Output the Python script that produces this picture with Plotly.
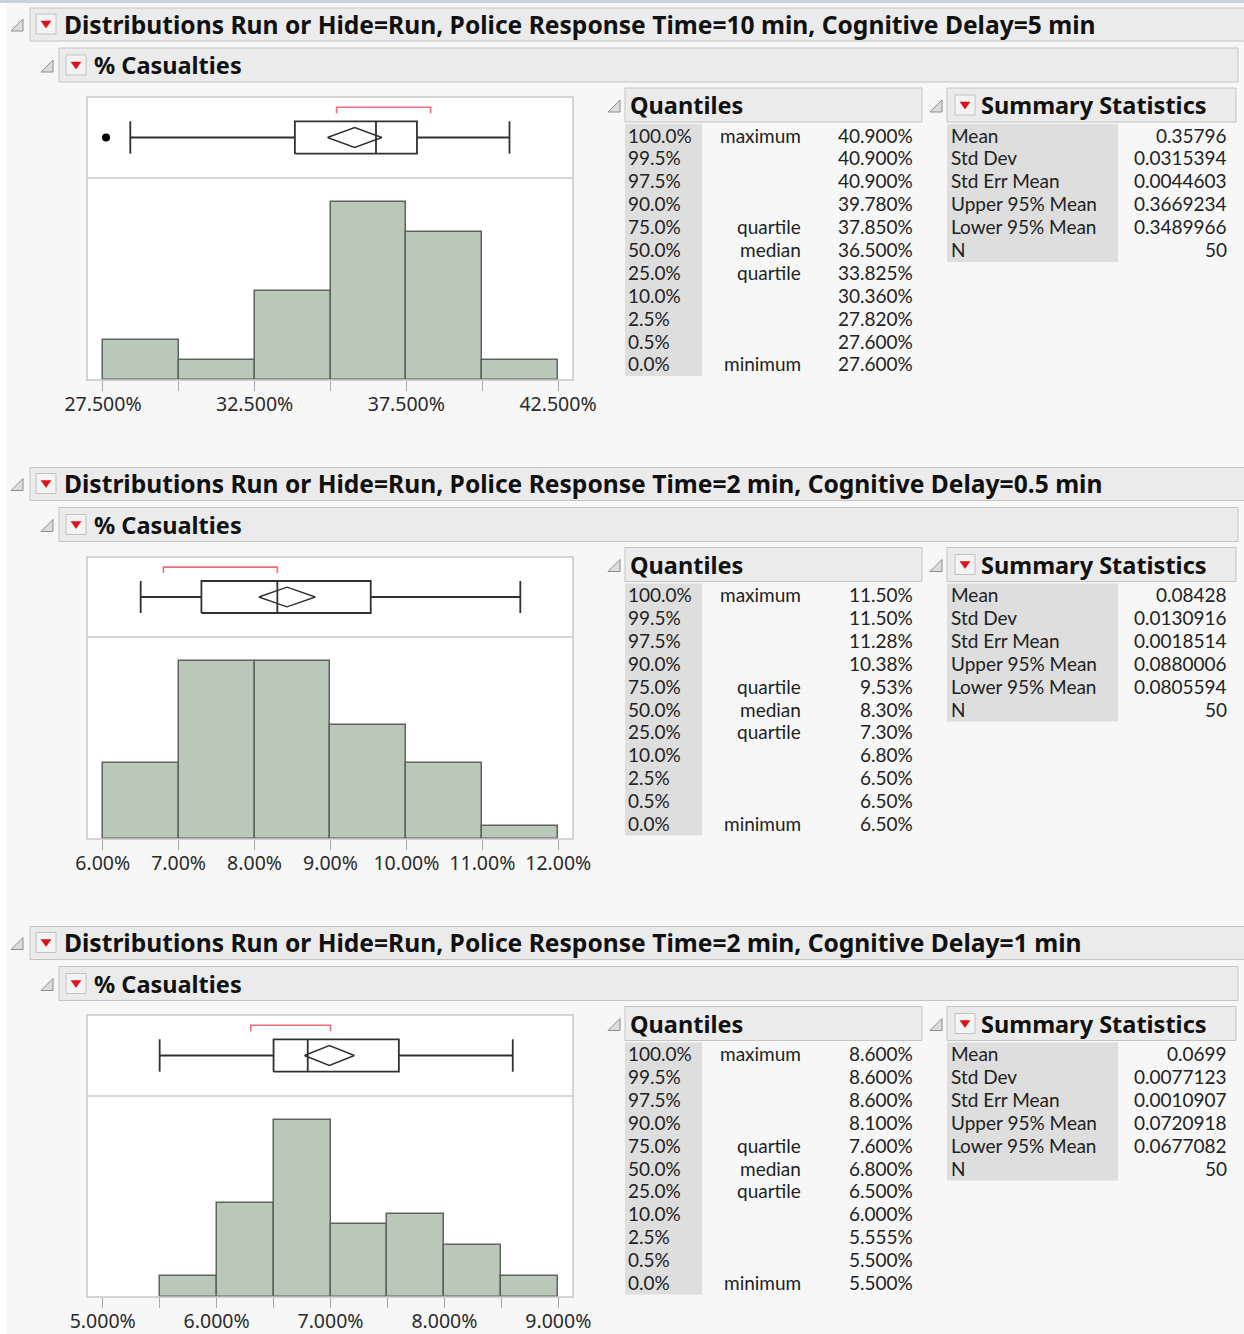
import plotly.graph_objects as go

W, H = 1244, 1334

# ---------------- data ----------------
titles = [
    "Distributions Run or Hide=Run, Police Response Time=10 min, Cognitive Delay=5 min",
    "Distributions Run or Hide=Run, Police Response Time=2 min, Cognitive Delay=0.5 min",
    "Distributions Run or Hide=Run, Police Response Time=2 min, Cognitive Delay=1 min",
]
subtitle = "% Casualties"

edges1 = [27.5, 30.0, 32.5, 35.0, 37.5, 40.0, 42.5]
counts1 = [4, 2, 9, 18, 15, 2]
edges2 = [6.0, 7.0, 8.0, 9.0, 10.0, 11.0, 12.0]
counts2 = [6, 14, 14, 9, 6, 1]
edges3 = [5.5, 6.0, 6.5, 7.0, 7.5, 8.0, 8.5, 9.0]
counts3 = [2, 9, 17, 7, 8, 5, 2]

whisker_lo = [28.4, 6.5, 5.5]
q1 = [33.825, 7.30, 6.5]
median = [36.5, 8.30, 6.8]
q3 = [37.85, 9.53, 7.6]
whisker_hi = [40.9, 11.5, 8.6]
mean = [35.796, 8.428, 6.99]
lower95 = [34.89966, 8.05594, 6.77082]
upper95 = [36.69234, 8.80006, 7.20918]
outliers = [[27.6], [], []]
shortest_half = [[35.2, 38.3], [6.8, 8.3], [6.3, 7.0]]

tickvals1 = [27.5, 30.0, 32.5, 35.0, 37.5, 40.0, 42.5]
ticktext1 = ["27.500%", "", "32.500%", "", "37.500%", "", "42.500%"]
tickvals2 = [6, 7, 8, 9, 10, 11, 12]
ticktext2 = ["6.00%", "7.00%", "8.00%", "9.00%", "10.00%", "11.00%", "12.00%"]
tickvals3 = [5.0, 5.5, 6.0, 6.5, 7.0, 7.5, 8.0, 8.5, 9.0]
ticktext3 = ["5.000%", "", "6.000%", "", "7.000%", "", "8.000%", "", "9.000%"]

quantile_levels = ["100.0%", "99.5%", "97.5%", "90.0%", "75.0%", "50.0%",
                   "25.0%", "10.0%", "2.5%", "0.5%", "0.0%"]
quantile_names = ["maximum", "", "", "", "quartile", "median", "quartile",
                  "", "", "", "minimum"]
quantiles1 = ["40.900%", "40.900%", "40.900%", "39.780%", "37.850%", "36.500%",
              "33.825%", "30.360%", "27.820%", "27.600%", "27.600%"]
quantiles2 = ["11.50%", "11.50%", "11.28%", "10.38%", "9.53%", "8.30%",
              "7.30%", "6.80%", "6.50%", "6.50%", "6.50%"]
quantiles3 = ["8.600%", "8.600%", "8.600%", "8.100%", "7.600%", "6.800%",
              "6.500%", "6.000%", "5.555%", "5.500%", "5.500%"]
stat_names = ["Mean", "Std Dev", "Std Err Mean", "Upper 95% Mean", "Lower 95% Mean", "N"]
stats1 = ["0.35796", "0.0315394", "0.0044603", "0.3669234", "0.3489966", "50"]
stats2 = ["0.08428", "0.0130916", "0.0018514", "0.0880006", "0.0805594", "50"]
stats3 = ["0.0699", "0.0077123", "0.0010907", "0.0720918", "0.0677082", "50"]

edges = [edges1, edges2, edges3]
counts = [counts1, counts2, counts3]
tickvals = [tickvals1, tickvals2, tickvals3]
ticktexts = [ticktext1, ticktext2, ticktext3]
quantiles = [quantiles1, quantiles2, quantiles3]
stats = [stats1, stats2, stats3]

# ---------------- layout constants (pixels) ----------------
x_ranges = [[26.973, 42.994], [5.793, 12.194], [4.862, 9.129]]
frame_top = [97, 557, 1015]
frame_mid = [178, 637, 1096]
frame_bot = [380, 839, 1297]
dy = [0, 459.5, 918.5]
frame_x = [87, 573]

FONT = "Noto Sans"
TAB_FONT = "Lato"
BAR_FILL = "#b9c8b9"
BAR_EDGE = "#5e635e"
BOX_LINE = "#303030"
FRAME = "#c8c8c8"
HDR_FILL = "#ebebeb"
HDR_LINE = "#c4c4c4"
LABEL_FILL = "#dedede"
TXT = "#222222"
TITLE_SIZE = 24.6
HDR_SIZE = 23.5
TAB_SIZE = 19


def X(px):
    return px / W


def Y(py):
    return 1 - py / H


fig = go.Figure()
layout = dict(
    template="none",
    width=W, height=H, autosize=False, margin=dict(l=0, r=0, t=0, b=0, pad=0, autoexpand=False),
    paper_bgcolor="#f7f7f7", plot_bgcolor="white", showlegend=False,
    font=dict(family=FONT, color=TXT),
)
shapes = []
annotations = []


def ann(x, y, text, size=TAB_SIZE, bold=False, xanchor="left", color=TXT, family=TAB_FONT):
    annotations.append(dict(
        x=X(x), y=Y(y), xref="paper", yref="paper", text=text, showarrow=False,
        xanchor=xanchor, yanchor="middle", borderpad=0,
        font=dict(family=family, size=size, color=color, weight=700 if bold else 400),
    ))


def rect(x0, y0, x1, y1, fill, line=None, lw=1, layer="below"):
    shapes.append(dict(type="rect", xref="paper", yref="paper",
                       x0=X(x0), x1=X(x1), y0=Y(y1), y1=Y(y0),
                       fillcolor=fill, line=dict(color=line or "rgba(0,0,0,0)", width=lw if line else 0),
                       layer=layer))


def hline(x0, x1, y, color, lw=1.5):
    shapes.append(dict(type="line", xref="paper", yref="paper",
                       x0=X(x0), x1=X(x1), y0=Y(y), y1=Y(y),
                       line=dict(color=color, width=lw), layer="above"))


def disclosure(x, y):
    p = f"M {X(x)},{Y(y+6)} L {X(x+12)},{Y(y-6)} L {X(x+12)},{Y(y+6)} Z"
    shapes.append(dict(type="path", path=p, xref="paper", yref="paper",
                       fillcolor="#dcdcdc", line=dict(color="#8c8c8c", width=1), layer="above"))


def red_button(x, y):
    shapes.append(dict(type="rect", xref="paper", yref="paper",
                       x0=X(x), x1=X(x + 20), y0=Y(y + 10), y1=Y(y - 10),
                       fillcolor="#f3f3f3", line=dict(color="#c2c2c2", width=1), layer="above"))
    p = f"M {X(x+5)},{Y(y-3)} L {X(x+15)},{Y(y-3)} L {X(x+10)},{Y(y+4)} Z"
    shapes.append(dict(type="path", path=p, xref="paper", yref="paper",
                       fillcolor="#e0101a", line=dict(color="#e0101a", width=0.5), layer="above"))


# page decorations
rect(0, 0, 7, H, "white")
rect(0, 0, W, 3, "#c9d3de")

for i in range(3):
    d = dy[i]
    # outer header
    rect(30, 8 + d, 1246, 41 + d, HDR_FILL, HDR_LINE)
    disclosure(11, 25 + d)
    red_button(36, 24 + d)
    ann(63, 24 + d, titles[i], size=TITLE_SIZE, bold=True, color="#111111", family=FONT)
    # inner header
    rect(59, 48 + d, 1238, 82 + d, HDR_FILL, HDR_LINE)
    disclosure(41, 66 + d)
    red_button(66, 65 + d)
    ann(93, 65 + d, subtitle, size=HDR_SIZE, bold=True, color="#111111", family=FONT)
    # Quantiles header
    rect(625, 88 + d, 922, 122 + d, HDR_FILL, HDR_LINE)
    disclosure(608, 106 + d)
    ann(629, 105 + d, "Quantiles", size=HDR_SIZE, bold=True, color="#111111", family=FONT)
    # Summary statistics header
    rect(947, 88 + d, 1236, 122 + d, HDR_FILL, HDR_LINE)
    disclosure(930, 106 + d)
    red_button(955, 105 + d)
    ann(980, 105 + d, "Summary Statistics", size=HDR_SIZE, bold=True, color="#111111", family=FONT)
    # label columns
    rect(625, 124 + d, 702, 376 + d, LABEL_FILL)
    rect(947, 124 + d, 1118, 262 + d, LABEL_FILL)
    for r in range(11):
        yy = 135 + d + r * 22.9
        ann(627, yy, quantile_levels[r])
        if quantile_names[r]:
            ann(802, yy, quantile_names[r], xanchor="right")
        ann(914, yy, quantiles[i][r], xanchor="right")
    for r in range(6):
        yy = 135 + d + r * 22.9
        ann(950, yy, stat_names[r])
        ann(1228, yy, stats[i][r], xanchor="right")

    # frame of the plot
    rect(frame_x[0], frame_top[i], frame_x[1], frame_bot[i], "rgba(0,0,0,0)", FRAME, 1.5, layer="above")
    hline(frame_x[0], frame_x[1], frame_mid[i], FRAME, 1.5)

    # ---------- axes ----------
    kh = 2 * i + 1
    kb = 2 * i + 2
    sh = "" if kh == 1 else str(kh)
    sb = str(kb)
    xdom = [X(frame_x[0]), X(frame_x[1])]
    ymax = max(counts[i]) * 1.135
    common = dict(showgrid=False, zeroline=False, showline=False, automargin=False, fixedrange=True)
    layout["xaxis" + sh] = dict(
        domain=xdom, anchor="y" + sh, range=x_ranges[i],
        tickmode="array", tickvals=tickvals[i], ticktext=ticktexts[i],
        ticks="outside", ticklen=10, tickwidth=1, tickcolor="#a9a9a9",
        ticklabelstandoff=-3,
        tickfont=dict(family=FONT, size=19.5, color="#2a2a2a"), **common,
    )
    layout["yaxis" + sh] = dict(
        domain=[Y(frame_bot[i]), Y(frame_mid[i])], anchor="x" + sh, range=[0, ymax],
        showticklabels=False, ticks="", **common,
    )
    layout["xaxis" + sb] = dict(
        domain=xdom, anchor="y" + sb, range=x_ranges[i], matches="x" + sh,
        showticklabels=False, ticks="", **common,
    )
    layout["yaxis" + sb] = dict(
        domain=[Y(frame_mid[i]), Y(frame_top[i])], anchor="x" + sb, range=[0, 1],
        showticklabels=False, ticks="", **common,
    )
    xa_h, ya_h = "x" + sh, "y" + sh
    xa_b, ya_b = "x" + sb, "y" + sb

    # histogram
    e = edges[i]
    centers = [(e[j] + e[j + 1]) / 2 for j in range(len(e) - 1)]
    widths = [e[j + 1] - e[j] for j in range(len(e) - 1)]
    fig.add_trace(go.Bar(x=centers, y=counts[i], width=widths, xaxis=xa_h, yaxis=ya_h,
                         marker=dict(color=BAR_FILL, line=dict(color=BAR_EDGE, width=1.5))))

    # box plot
    lw = 1.8
    bl, bh = 0.3, 0.7

    def line(xs, ys, color=BOX_LINE, width=lw):
        fig.add_trace(go.Scatter(x=xs, y=ys, mode="lines", xaxis=xa_b, yaxis=ya_b,
                                 line=dict(color=color, width=width), hoverinfo="skip"))
    line([whisker_lo[i], q1[i]], [0.5, 0.5])
    line([q3[i], whisker_hi[i]], [0.5, 0.5])
    line([whisker_lo[i], whisker_lo[i]], [bl, bh])
    line([whisker_hi[i], whisker_hi[i]], [bl, bh])
    line([q1[i], q3[i], q3[i], q1[i], q1[i]], [bl, bl, bh, bh, bl])
    line([median[i], median[i]], [bl, bh])
    dh = 0.123
    line([lower95[i], mean[i], upper95[i], mean[i], lower95[i]],
         [0.5, 0.5 + dh, 0.5, 0.5 - dh, 0.5], width=1.4)
    s0, s1 = shortest_half[i]
    line([s0, s0, s1, s1], [0.80, 0.873, 0.873, 0.80], color="#f06b7a", width=1.6)
    if outliers[i]:
        fig.add_trace(go.Scatter(x=outliers[i], y=[0.5] * len(outliers[i]), mode="markers",
                                 xaxis=xa_b, yaxis=ya_b,
                                 marker=dict(color="black", size=8)))

layout["shapes"] = shapes
layout["annotations"] = annotations
layout["bargap"] = 0
fig.update_layout(**layout)
fig.write_html(
    "out.html",
    config={"responsive": False, "displayModeBar": False},
    default_width="1244px", default_height="1334px",
    post_script="document.body.style.margin='0px';document.body.style.padding='0px';"
                "document.documentElement.style.overflow='hidden';document.body.style.overflow='hidden';",
)
